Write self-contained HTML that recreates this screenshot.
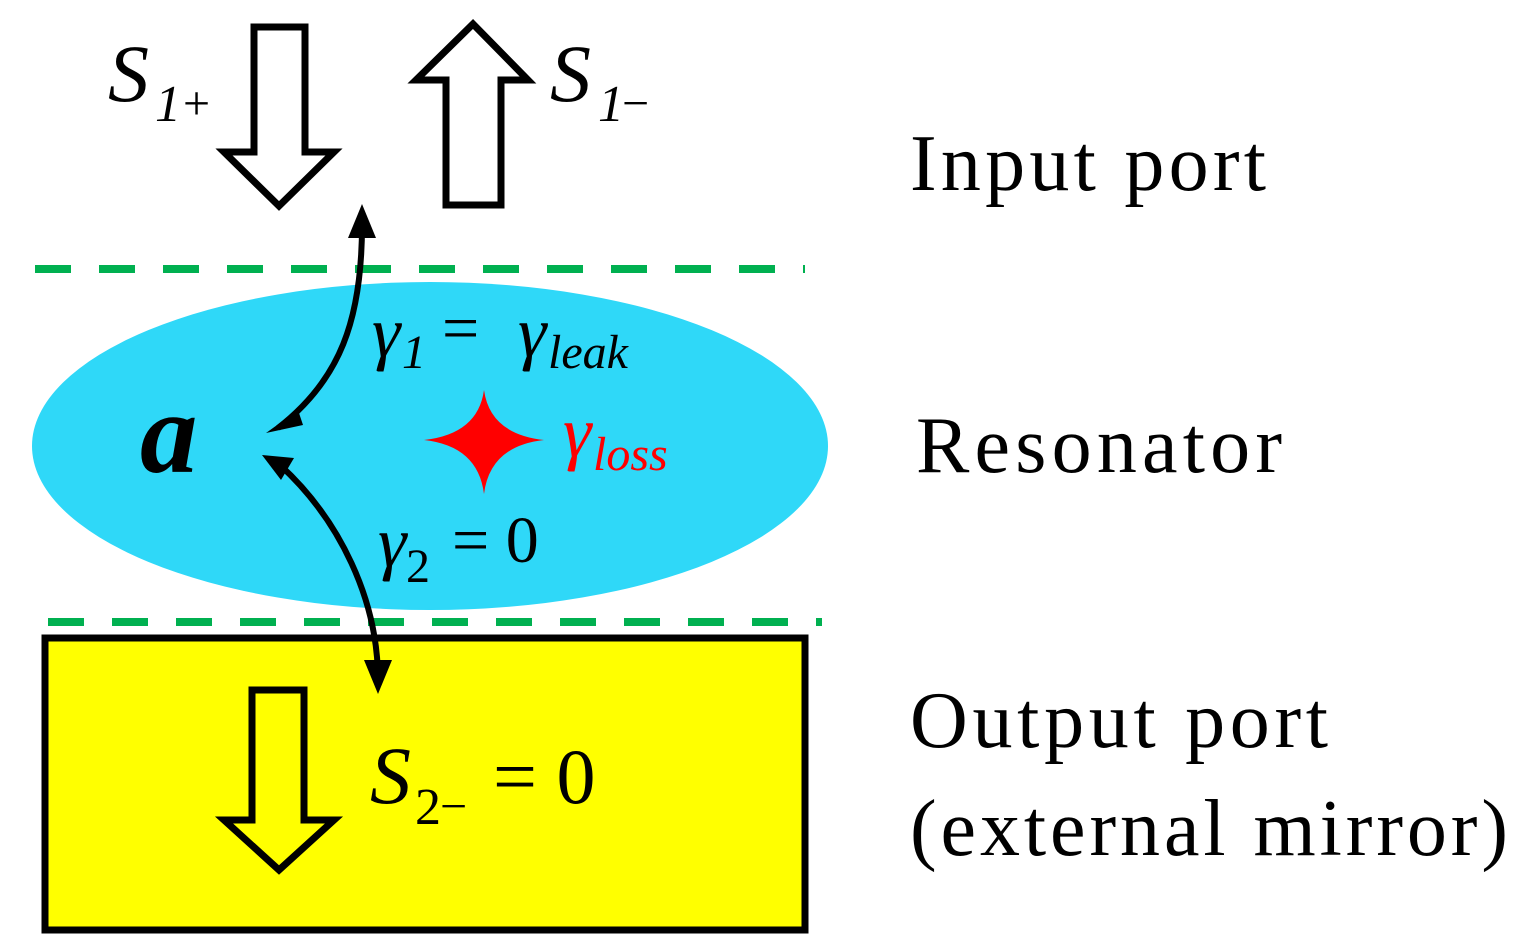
<!DOCTYPE html>
<html><head><meta charset="utf-8"><style>html,body{margin:0;padding:0;background:#fff}svg{display:block}</style></head>
<body>
<svg width="1525" height="952" viewBox="0 0 1525 952" xmlns="http://www.w3.org/2000/svg" font-family="Liberation Serif, serif">
<defs>
<marker id="ah" viewBox="0 0 10 10" refX="9" refY="5" markerWidth="4.5" markerHeight="4.5" markerUnits="strokeWidth" orient="auto">
<path d="M0,0 L10,5 L0,10 z" fill="#000"/></marker>
</defs>
<!-- ellipse -->
<ellipse cx="430" cy="446" rx="398" ry="164" fill="#2fd8f8"/>
<!-- dashed lines -->
<line x1="35" y1="269" x2="805" y2="269" stroke="#00b050" stroke-width="8" stroke-dasharray="36,28"/>
<line x1="48" y1="622" x2="822" y2="622" stroke="#00b050" stroke-width="8" stroke-dasharray="36,28"/>
<!-- yellow rect -->
<rect x="45" y="638" width="760" height="292" fill="#ffff00" stroke="#000" stroke-width="7"/>
<!-- block arrows -->
<polygon points="254,27 305,27 305,152 334,152 279,206 224,152 254,152" fill="#fff" stroke="#000" stroke-width="7" stroke-linejoin="miter"/>
<polygon points="473,24 528,80 501,80 501,205 446,205 446,80 416,80" fill="#fff" stroke="#000" stroke-width="7"/>
<polygon points="252,690 304,690 304,820 334,820 279,870 224,820 252,820" fill="#ffff00" stroke="#000" stroke-width="7"/>
<!-- curved arrows -->
<path d="M362,225 C362,320 340,380 278,428" fill="none" stroke="#000" stroke-width="6"/>
<polygon points="362,204 348,238 376,238" fill="#000"/>
<polygon points="266,433 298,410 303,425" fill="#000"/>
<path d="M280,465 C340,520 378,600 378,680" fill="none" stroke="#000" stroke-width="6"/>
<polygon points="262,455 294,458 281,480" fill="#000"/>
<polygon points="378,694 364,660 392,660" fill="#000"/>
<!-- star -->
<path d="M484,390 Q490,434 544,440 Q490,446 484,494 Q478,446 424,440 Q478,434 484,390 z" fill="#ff0000"/>
<!-- labels -->
<text x="108" y="101" font-size="82" font-style="italic">S</text>
<text x="155" y="121" font-size="52" font-style="italic">1</text>
<text x="183" y="119" font-size="48">+</text>
<text x="550" y="101" font-size="82" font-style="italic">S</text>
<text x="598" y="121" font-size="52" font-style="italic">1</text>
<text x="622" y="119" font-size="48">−</text>
<text x="910" y="190" font-size="80" textLength="356">Input port</text>
<text x="916" y="472" font-size="80" textLength="366">Resonator</text>
<text x="910" y="747" font-size="80" textLength="418">Output port</text>
<text x="910" y="855" font-size="80" textLength="598">(external mirror)</text>
<text x="140" y="472" font-size="115" font-weight="bold" font-style="italic">a</text>
<text x="372" y="356" font-size="72" font-style="italic">γ</text>
<text x="402" y="368" font-size="48" font-style="italic">1</text>
<text x="442" y="350" font-size="66">=</text>
<text x="518" y="356" font-size="72" font-style="italic">γ</text>
<text x="548" y="368" font-size="48" font-style="italic">leak</text>
<text x="563" y="456" font-size="72" font-style="italic" fill="#ff0000">γ</text>
<text x="593" y="470" font-size="48" font-style="italic" fill="#ff0000">loss</text>
<text x="378" y="566" font-size="72" font-style="italic">γ</text>
<text x="406" y="582" font-size="48">2</text>
<text x="452" y="562" font-size="66">= 0</text>
<text x="370" y="803" font-size="82" font-style="italic">S</text>
<text x="415" y="824" font-size="52">2</text>
<text x="440" y="822" font-size="48">−</text>
<text x="493" y="803" font-size="78">= 0</text>
</svg>
</body></html>
